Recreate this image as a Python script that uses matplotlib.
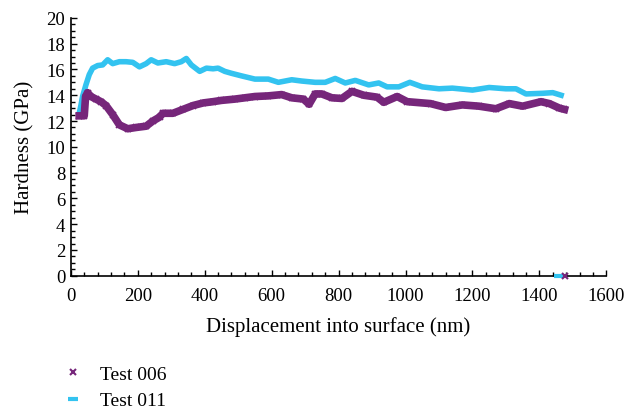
import matplotlib.pyplot as plt
from matplotlib.ticker import MultipleLocator

plt.rcParams['font.family'] = ['Liberation Serif', 'DejaVu Serif']

# Test 006 (purple, x markers)
x006 = [25, 40, 44, 50, 60, 75, 90, 105, 125, 145, 170, 195, 225, 245, 265, 275,
        305, 335, 365, 395, 425, 450, 490, 520, 550, 590, 630, 660, 695, 712, 730,
        750, 780, 810, 840, 875, 915, 935, 975, 1005, 1075, 1120, 1170, 1220, 1270,
        1310, 1350, 1405, 1430, 1460, 1475]
h006 = [12.4, 12.4, 13.9, 14.2, 13.9, 13.7, 13.5, 13.2, 12.5, 11.7, 11.4, 11.5, 11.6,
        12.0, 12.3, 12.6, 12.6, 12.9, 13.2, 13.4, 13.5, 13.6, 13.7, 13.8, 13.9, 13.95,
        14.05, 13.8, 13.7, 13.3, 14.1, 14.1, 13.8, 13.75, 14.3, 14.0, 13.85, 13.45,
        13.9, 13.5, 13.35, 13.05, 13.25, 13.15, 12.95, 13.35, 13.15, 13.5, 13.35,
        13.0, 12.9]

# Test 011 (cyan, dash markers)
x011 = [25, 30, 35, 45, 55, 65, 80, 95, 110, 125, 145, 165, 185, 205, 225, 240, 260,
        285, 310, 330, 345, 360, 385, 405, 425, 440, 460, 480, 510, 550, 590, 620,
        660, 690, 730, 760, 790, 820, 850, 890, 920, 945, 980, 1013, 1050, 1100,
        1140, 1200, 1250, 1300, 1330, 1360, 1410, 1440, 1465]
h011 = [12.6, 13.2, 13.9, 14.8, 15.6, 16.1, 16.3, 16.35, 16.75, 16.45, 16.6, 16.6,
        16.55, 16.2, 16.45, 16.75, 16.5, 16.6, 16.45, 16.6, 16.85, 16.35, 15.85,
        16.1, 16.05, 16.1, 15.85, 15.7, 15.5, 15.25, 15.25, 15.0, 15.2, 15.1, 15.0,
        15.0, 15.3, 14.95, 15.15, 14.8, 14.95, 14.65, 14.65, 15.0, 14.65, 14.5,
        14.55, 14.4, 14.6, 14.5, 14.5, 14.1, 14.15, 14.2, 14.0]

# last points logged at zero
end006 = (1478, 0)
end011 = (1460, 0)

purple = '#76267a'
cyan = '#33c3f0'

fig = plt.figure(figsize=(6.27, 4.10), dpi=100)
ax = fig.add_axes([0.113, 0.325, 0.854, 0.629])

ax.plot(x011, h011, color=cyan, lw=4, solid_joinstyle='round', zorder=2)
ax.plot(x006, h006, color=purple, lw=5.5, solid_joinstyle='round', zorder=3)
ax.plot(x006, h006, ls='none', marker='x', ms=4, mew=1.2, color=purple, zorder=3)

ax.plot([end011[0]], [end011[1]], ls='none', marker='_', ms=7, mew=3,
        color=cyan, clip_on=False, zorder=4, label='Test 011')
ax.plot([end006[0]], [end006[1]], ls='none', marker='x', ms=5, mew=1.5,
        color=purple, clip_on=False, zorder=5, label='Test 006')

ax.set_xlim(0, 1600)
ax.set_ylim(0, 20)
ax.xaxis.set_major_locator(MultipleLocator(200))
ax.xaxis.set_minor_locator(MultipleLocator(40))
ax.yaxis.set_major_locator(MultipleLocator(2))
ax.yaxis.set_minor_locator(MultipleLocator(0.5))
ax.tick_params(which='both', direction='in', labelsize=13.5, color='black')
ax.tick_params(which='major', length=4, width=1)
ax.tick_params(which='minor', length=3, width=1)
ax.tick_params(axis='x', pad=8)
ax.tick_params(axis='y', pad=4)
for s in ['top', 'right']:
    ax.spines[s].set_visible(False)
for s in ['left', 'bottom']:
    ax.spines[s].set_linewidth(1.2)

ax.set_xlabel('Displacement into surface (nm)', fontsize=15, labelpad=9)
ax.set_ylabel('Hardness (GPa)', fontsize=15, labelpad=9)

handles, labels = ax.get_legend_handles_labels()
leg = fig.legend(handles[::-1], labels[::-1], loc='upper left',
                 bbox_to_anchor=(0.085, 0.125), frameon=False, fontsize=14,
                 handlelength=1.2, handletextpad=0.8, labelspacing=0.45,
                 borderaxespad=0)

fig.savefig('out.png', dpi=100)
